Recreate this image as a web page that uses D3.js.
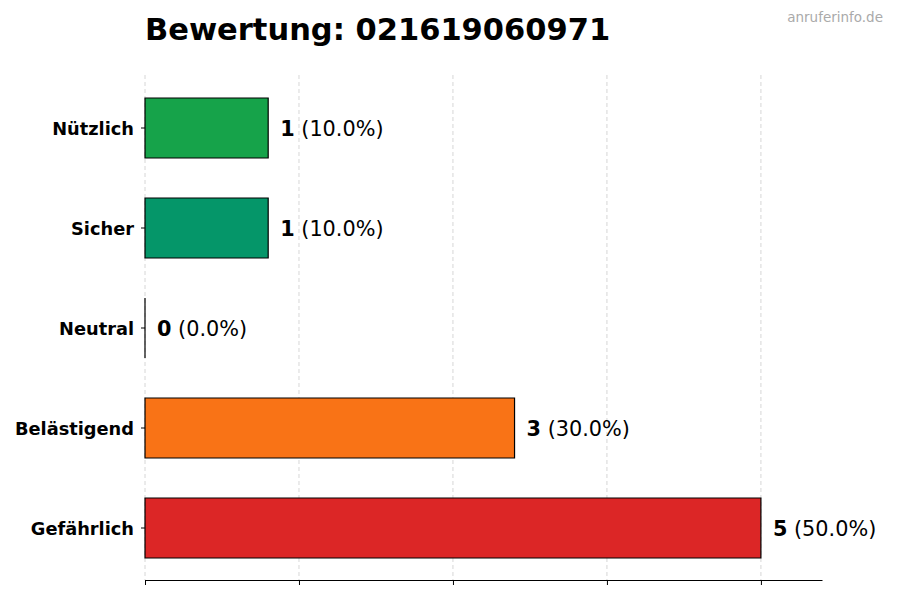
<!DOCTYPE html>
<html><head><meta charset="utf-8">
<script src="https://cdn.jsdelivr.net/npm/d3@7"></script>
<style>body{margin:0;background:#fff}svg{display:block}</style>
</head><body>
<script>
const categories = ["Nützlich", "Sicher", "Neutral", "Belästigend", "Gefährlich"];
const counts = [1, 1, 0, 3, 5];
const percents = ["10.0%", "10.0%", "0.0%", "30.0%", "50.0%"];
const colors = ["#16a34a", "#059669", "#6b7280", "#f97316", "#dc2626"];
const xTicks = [0, 1.25, 2.5, 3.75, 5];
const title = "Bewertung: 021619060971";
const watermark = "anruferinfo.de";

const W = 900, H = 600;
const svg = d3.select("body").append("svg").attr("width", W).attr("height", H);
const font = "DejaVu Sans, sans-serif";

const x = d3.scaleLinear().domain([0, 5.5]).range([145, 822.5]);
const y = d3.scaleBand().domain(categories).range([78, 578]).paddingInner(0.4).paddingOuter(0.2);
const plotTop = 75, plotBottom = 580;

// grid
svg.append("g").selectAll("line").data(xTicks).join("line")
  .attr("x1", d => x(d)).attr("x2", d => x(d))
  .attr("y1", plotTop).attr("y2", plotBottom)
  .attr("stroke", "#cccccc").attr("stroke-width", 0.8).attr("stroke-dasharray", "4,3");

// bars (paths so zero-width bars still show their edge)
svg.append("g").selectAll("path").data(categories).join("path")
  .attr("d", (d, i) => {
    const x0 = x(0), w = x(counts[i]) - x(0), y0 = y(d), h = y.bandwidth();
    return `M${x0},${y0}h${w}v${h}h${-w}Z`;
  })
  .attr("fill", (d, i) => colors[i])
  .attr("stroke", "#000").attr("stroke-width", 1.2);

// bottom axis
const xAxis = d3.axisBottom(x).tickValues(xTicks).tickSize(5).tickFormat("");
const gx = svg.append("g").attr("transform", `translate(0,${plotBottom})`).call(xAxis);
gx.select(".domain").attr("d", `M${x(0)},0.5H822.5`).attr("stroke", "#000").attr("stroke-width", 1);
gx.selectAll(".tick line").attr("stroke", "#000");

// left axis
const yAxis = d3.axisLeft(y).tickSize(4).tickPadding(7);
const gy = svg.append("g").attr("transform", `translate(${x(0)},0)`).call(yAxis);
gy.select(".domain").remove();
gy.selectAll(".tick line").attr("stroke", "#000");
gy.selectAll(".tick text").attr("font-family", font).attr("font-weight", "bold")
  .attr("font-size", 17.8).attr("fill", "#000").attr("dy", "0.38em");

// value labels
const lbl = svg.append("g").selectAll("text").data(categories).join("text")
  .attr("x", (d, i) => x(counts[i]) + 12)
  .attr("y", d => y(d) + y.bandwidth() / 2)
  .attr("dy", "0.38em")
  .attr("font-family", font).attr("font-size", 20.8).attr("fill", "#000");
lbl.append("tspan").attr("font-weight", "bold").text((d, i) => counts[i]);
lbl.append("tspan").text((d, i) => " (" + percents[i] + ")");

// title
svg.append("text").attr("x", 145).attr("y", 40)
  .attr("font-family", font).attr("font-weight", "bold").attr("font-size", 30.5)
  .attr("fill", "#000").text(title);

// watermark
svg.append("text").attr("x", 883).attr("y", 22).attr("text-anchor", "end")
  .attr("font-family", font).attr("font-size", 13.5).attr("fill", "#aaaaaa").text(watermark);
</script>
</body></html>
